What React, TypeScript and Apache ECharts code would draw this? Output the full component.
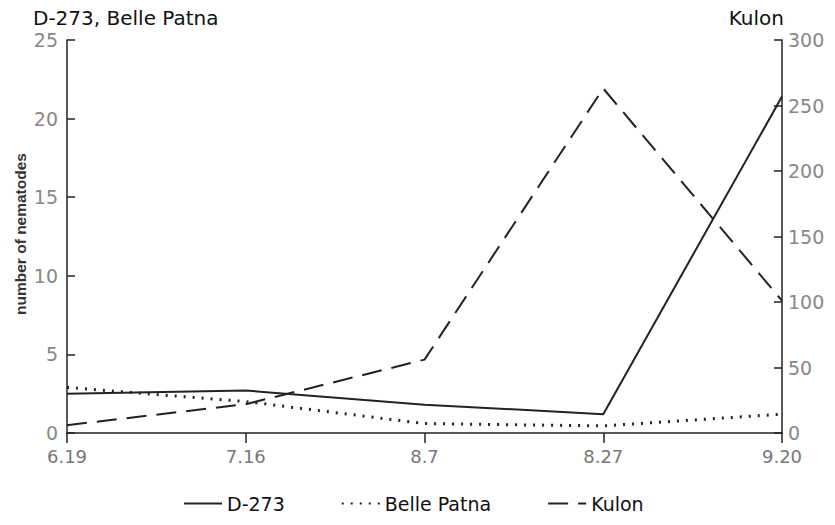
import React, { useEffect, useRef } from "react";
import * as echarts from "echarts";

const categories = ["6.19", "7.16", "8.7", "8.27", "9.20"];
const d273 = [2.5, 2.7, 1.8, 1.2, 21.4];
const bellePatna = [2.9, 2.0, 0.6, 0.45, 1.2];
const kulon = [6, 22, 56, 263, 101];

export default function App() {
  const ref = useRef<HTMLDivElement>(null);
  useEffect(() => {
    const chart = echarts.init(ref.current!, null, { renderer: "svg" });
    const font = "DejaVu Sans, Liberation Sans, sans-serif";
    const axisLine = { show: true, lineStyle: { color: "#222", width: 1.5 } };
    chart.setOption({
      animation: false,
      backgroundColor: "#fff",
      textStyle: { fontFamily: font },
      grid: { left: 67, right: 53, top: 40, bottom: 92 },
      legend: {
        bottom: 7,
        left: 178,
        itemWidth: 38,
        itemHeight: 10,
        itemGap: 56,
        itemStyle: { opacity: 0 },
        textStyle: { fontSize: 19, color: "#111", fontFamily: font },
        data: ["D-273", "Belle Patna", "Kulon"],
      },
      xAxis: {
        type: "category",
        data: categories,
        boundaryGap: false,
        axisLine,
        axisTick: { show: true, inside: false, length: 10, lineStyle: { color: "#222", width: 1.5 } },
        axisLabel: { color: "#777", fontSize: 18, margin: 14, fontFamily: font },
        splitLine: { show: false },
      },
      yAxis: [
        {
          type: "value",
          min: 0,
          max: 25,
          interval: 5,
          position: "left",
          name: "D-273, Belle Patna",
          nameLocation: "end",
          nameGap: 12,
          nameTextStyle: { fontSize: 20, color: "#111", align: "left", padding: [0, 0, 0, -34], fontFamily: font },
          axisLine,
          axisTick: { show: true, inside: true, length: 8, lineStyle: { color: "#222", width: 1.5 } },
          axisLabel: {
            fontSize: 19,
            margin: 9,
            fontFamily: font,
            color: (v: number) => (v === 25 ? "#444" : "#888"),
          },
          splitLine: { show: false },
        },
        {
          type: "value",
          min: 0,
          max: 300,
          interval: 50,
          position: "right",
          name: "Kulon",
          nameLocation: "end",
          nameGap: 12,
          nameTextStyle: { fontSize: 20, color: "#111", align: "right", padding: [0, -2, 0, 0], fontFamily: font },
          axisLine,
          axisTick: { show: true, inside: true, length: 8, lineStyle: { color: "#222", width: 1.5 } },
          axisLabel: {
            fontSize: 19,
            margin: 6,
            fontFamily: font,
            color: (v: number) => (v === 300 ? "#111" : "#888"),
          },
          splitLine: { show: false },
        },
      ],
      graphic: [
        {
          type: "text",
          x: 20,
          y: 234,
          rotation: Math.PI / 2,
          style: {
            text: "number of nematodes",
            fontSize: 15.5,
            fontWeight: "bold",
            fill: "#333",
            fontFamily: "Liberation Sans, Arial, sans-serif",
            textAlign: "center",
            textVerticalAlign: "middle",
          },
        },
      ],
      series: [
        {
          name: "D-273",
          type: "line",
          yAxisIndex: 0,
          data: d273,
          symbol: "none",
          lineStyle: { color: "#222", width: 2, type: "solid" },
          itemStyle: { color: "#222" },
        },
        {
          name: "Belle Patna",
          type: "line",
          yAxisIndex: 0,
          data: bellePatna,
          symbol: "none",
          lineStyle: { color: "#222", width: 3, type: [2, 7] },
          itemStyle: { color: "#222" },
        },
        {
          name: "Kulon",
          type: "line",
          yAxisIndex: 1,
          data: kulon,
          symbol: "none",
          lineStyle: { color: "#222", width: 2, type: [20, 10] },
          itemStyle: { color: "#222" },
        },
      ],
    });
    return () => chart.dispose();
  }, []);
  return <div ref={ref} style={{ width: 835, height: 525, margin: -8 }} />;
}
